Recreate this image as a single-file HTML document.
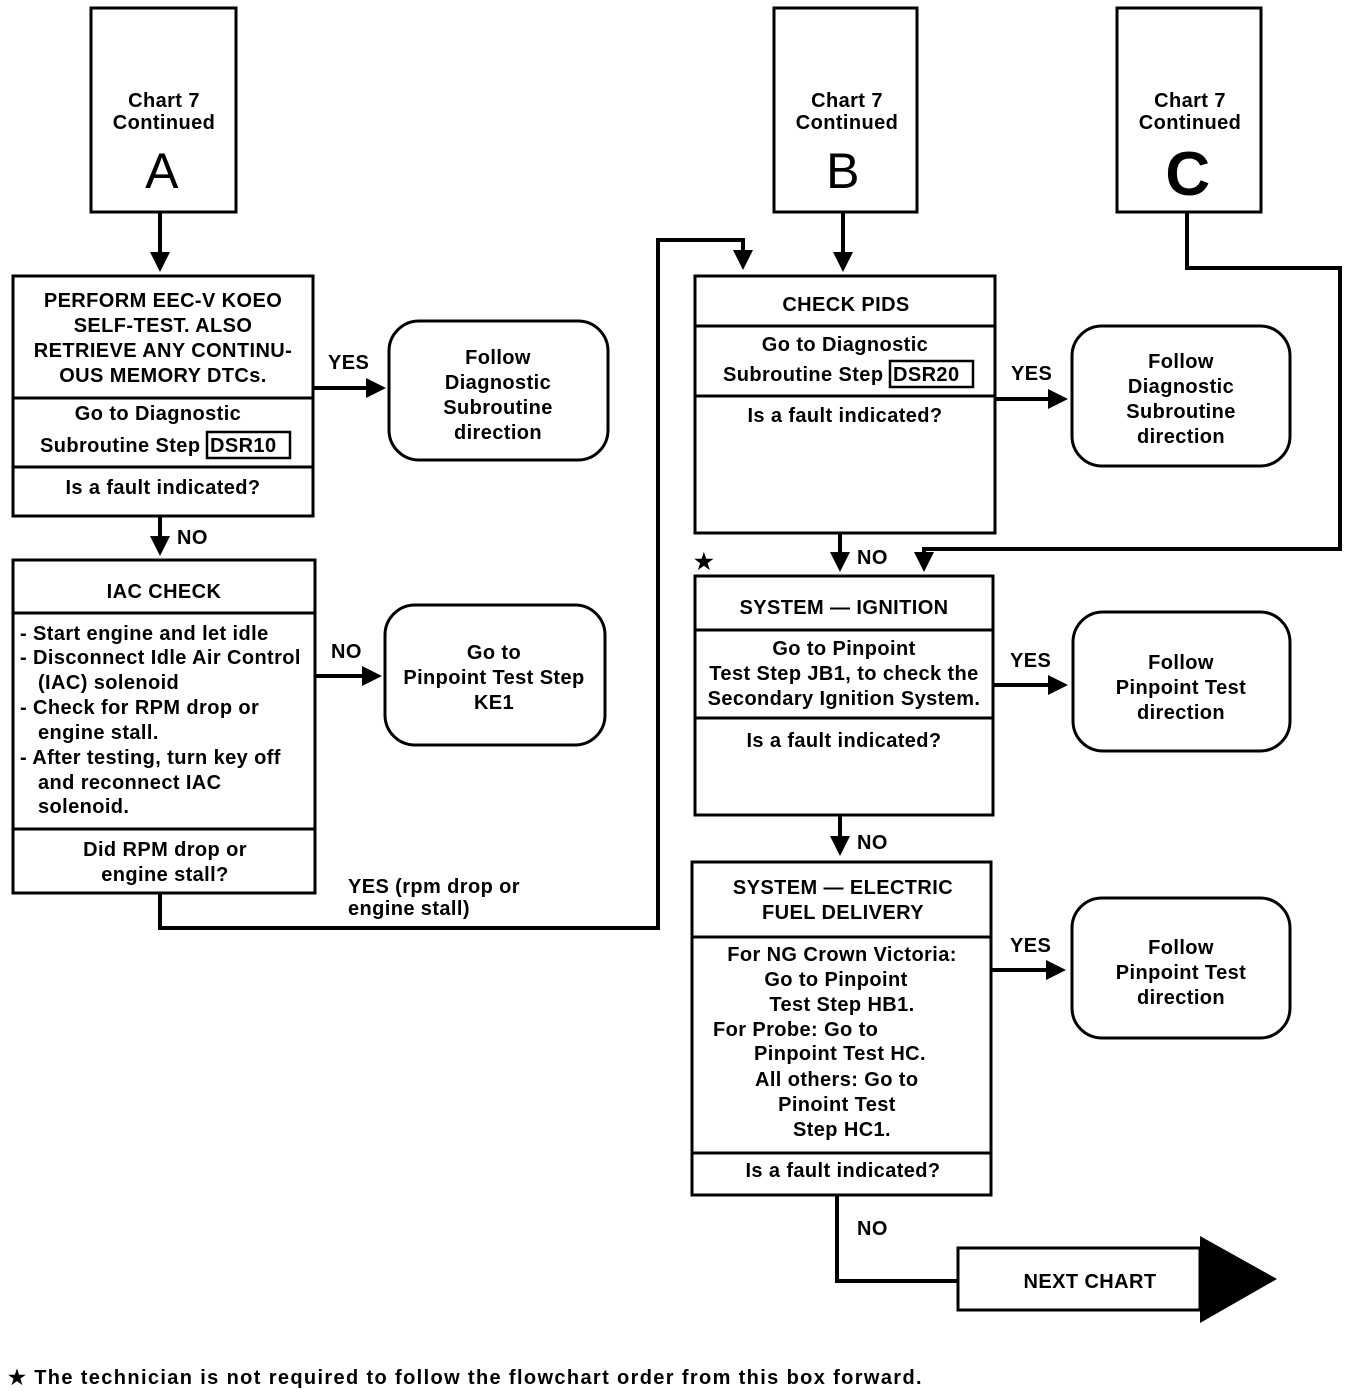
<!DOCTYPE html>
<html><head><meta charset="utf-8"><style>
html,body{margin:0;padding:0;background:#fff;}
svg{display:block;}
text{font-family:"Liberation Sans",sans-serif;font-size:20px;font-weight:bold;fill:#000;letter-spacing:0.4px;}
.c{text-anchor:middle;}
</style></head><body>
<svg width="1360" height="1396" viewBox="0 0 1360 1396" xmlns="http://www.w3.org/2000/svg">
<defs><marker id="ah" markerWidth="5" markerHeight="5" refX="4" refY="2.5" orient="auto" markerUnits="strokeWidth"><path d="M0,0 L5,2.5 L0,5 z" fill="#000"/></marker></defs>
<g fill="none" stroke="#000" stroke-width="3">
<rect x="91" y="8" width="145" height="204"/>
<rect x="774" y="8" width="143" height="204"/>
<rect x="1117" y="8" width="144" height="204"/>
<rect x="13" y="276" width="300" height="240"/>
<line x1="13" y1="398" x2="313" y2="398"/><line x1="13" y1="467" x2="313" y2="467"/>
<rect x="389" y="321" width="219" height="139" rx="30"/>
<rect x="13" y="560" width="302" height="333"/>
<line x1="13" y1="613" x2="315" y2="613"/><line x1="13" y1="829" x2="315" y2="829"/>
<rect x="385" y="605" width="220" height="140" rx="30"/>
<rect x="695" y="276" width="300" height="257"/>
<line x1="695" y1="326" x2="995" y2="326"/><line x1="695" y1="396" x2="995" y2="396"/>
<rect x="1072" y="326" width="218" height="140" rx="30"/>
<rect x="695" y="576" width="298" height="239"/>
<line x1="695" y1="630" x2="993" y2="630"/><line x1="695" y1="718" x2="993" y2="718"/>
<rect x="1073" y="612" width="217" height="139" rx="30"/>
<rect x="692" y="862" width="299" height="333"/>
<line x1="692" y1="937" x2="991" y2="937"/><line x1="692" y1="1153" x2="991" y2="1153"/>
<rect x="1072" y="898" width="218" height="140" rx="30"/>
<rect x="958" y="1248" width="242" height="62"/>
<rect x="207" y="432" width="83" height="26" stroke-width="2.5"/>
<rect x="890" y="361" width="83" height="26" stroke-width="2.5"/>
</g>
<path d="M1200,1236 L1277,1279 L1200,1323 z" fill="#000"/>
<g fill="none" stroke="#000" stroke-width="4">
<line x1="160" y1="212" x2="160" y2="268" marker-end="url(#ah)"/>
<line x1="313" y1="388" x2="382" y2="388" marker-end="url(#ah)"/>
<line x1="160" y1="516" x2="160" y2="552" marker-end="url(#ah)"/>
<line x1="315" y1="676" x2="378" y2="676" marker-end="url(#ah)"/>
<polyline points="160,893 160,928 658,928 658,240 743,240 743,266" marker-end="url(#ah)"/>
<line x1="843" y1="212" x2="843" y2="268" marker-end="url(#ah)"/>
<polyline points="1187,212 1187,268 1340,268 1340,549 924,549 924,568" marker-end="url(#ah)"/>
<line x1="995" y1="399" x2="1064" y2="399" marker-end="url(#ah)"/>
<line x1="840" y1="533" x2="840" y2="568" marker-end="url(#ah)"/>
<line x1="993" y1="685" x2="1064" y2="685" marker-end="url(#ah)"/>
<line x1="840" y1="815" x2="840" y2="852" marker-end="url(#ah)"/>
<line x1="991" y1="970" x2="1062" y2="970" marker-end="url(#ah)"/>
<polyline points="837,1195 837,1281 958,1281"/>
</g>
<text class="c" x="164" y="107">Chart 7</text>
<text class="c" x="164" y="129">Continued</text>
<text class="c" x="162" y="188" style="font-size:50px;font-weight:normal">A</text>
<text class="c" x="847" y="107">Chart 7</text>
<text class="c" x="847" y="129">Continued</text>
<text class="c" x="843" y="188" style="font-size:50px;font-weight:normal">B</text>
<text class="c" x="1190" y="107">Chart 7</text>
<text class="c" x="1190" y="129">Continued</text>
<text class="c" x="1188" y="195" style="font-size:62px;">C</text>
<text class="c" x="163" y="307">PERFORM EEC-V KOEO</text>
<text class="c" x="163" y="332">SELF-TEST. ALSO</text>
<text class="c" x="163" y="357">RETRIEVE ANY CONTINU-</text>
<text class="c" x="163" y="382">OUS MEMORY DTCs.</text>
<text class="c" x="158" y="420">Go to Diagnostic</text>
<text x="40" y="452">Subroutine Step <tspan x="210">DSR10</tspan></text>
<text class="c" x="163" y="494">Is a fault indicated?</text>
<text x="328" y="369">YES</text>
<text class="c" x="498" y="364">Follow</text>
<text class="c" x="498" y="389">Diagnostic</text>
<text class="c" x="498" y="414">Subroutine</text>
<text class="c" x="498" y="439">direction</text>
<text x="177" y="544">NO</text>
<text class="c" x="164" y="598">IAC CHECK</text>
<text x="20" y="640">- Start engine and let idle</text>
<text x="20" y="664">- Disconnect Idle Air Control</text>
<text x="38" y="689">(IAC) solenoid</text>
<text x="20" y="714">- Check for RPM drop or</text>
<text x="38" y="739">engine stall.</text>
<text x="20" y="764">- After testing, turn key off</text>
<text x="38" y="789">and reconnect IAC</text>
<text x="38" y="813">solenoid.</text>
<text class="c" x="165" y="856">Did RPM drop or</text>
<text class="c" x="165" y="881">engine stall?</text>
<text x="331" y="658">NO</text>
<text class="c" x="494" y="659">Go to</text>
<text class="c" x="494" y="684">Pinpoint Test Step</text>
<text class="c" x="494" y="709">KE1</text>
<text x="348" y="893">YES (rpm drop or</text>
<text x="348" y="915">engine stall)</text>
<text class="c" x="846" y="311">CHECK PIDS</text>
<text class="c" x="845" y="351">Go to Diagnostic</text>
<text x="723" y="381">Subroutine Step <tspan x="893">DSR20</tspan></text>
<text class="c" x="845" y="422">Is a fault indicated?</text>
<text x="1011" y="380">YES</text>
<text class="c" x="1181" y="368">Follow</text>
<text class="c" x="1181" y="393">Diagnostic</text>
<text class="c" x="1181" y="418">Subroutine</text>
<text class="c" x="1181" y="443">direction</text>
<text x="857" y="564">NO</text>
<text x="694" y="569" style="font-size:22px">★</text>
<text class="c" x="844" y="614">SYSTEM — IGNITION</text>
<text class="c" x="844" y="655">Go to Pinpoint</text>
<text class="c" x="844" y="680">Test Step JB1, to check the</text>
<text class="c" x="844" y="705">Secondary Ignition System.</text>
<text class="c" x="844" y="747">Is a fault indicated?</text>
<text x="1010" y="667">YES</text>
<text class="c" x="1181" y="669">Follow</text>
<text class="c" x="1181" y="694">Pinpoint Test</text>
<text class="c" x="1181" y="719">direction</text>
<text x="857" y="849">NO</text>
<text class="c" x="843" y="894">SYSTEM — ELECTRIC</text>
<text class="c" x="843" y="919">FUEL DELIVERY</text>
<text class="c" x="842" y="961">For NG Crown Victoria:</text>
<text class="c" x="836" y="986">Go to Pinpoint</text>
<text class="c" x="842" y="1011">Test Step HB1.</text>
<text x="713" y="1036">For Probe: Go to</text>
<text x="754" y="1060">Pinpoint Test HC.</text>
<text x="755" y="1086">All others: Go to</text>
<text class="c" x="837" y="1111">Pinoint Test</text>
<text class="c" x="842" y="1136">Step HC1.</text>
<text class="c" x="843" y="1177">Is a fault indicated?</text>
<text x="1010" y="952">YES</text>
<text class="c" x="1181" y="954">Follow</text>
<text class="c" x="1181" y="979">Pinpoint Test</text>
<text class="c" x="1181" y="1004">direction</text>
<text x="857" y="1235">NO</text>
<text class="c" x="1090" y="1288">NEXT  CHART</text>
<text x="8" y="1384" textLength="914" lengthAdjust="spacing">★ The technician is not required to follow the flowchart order from this box forward.</text>
</svg>
</body></html>
